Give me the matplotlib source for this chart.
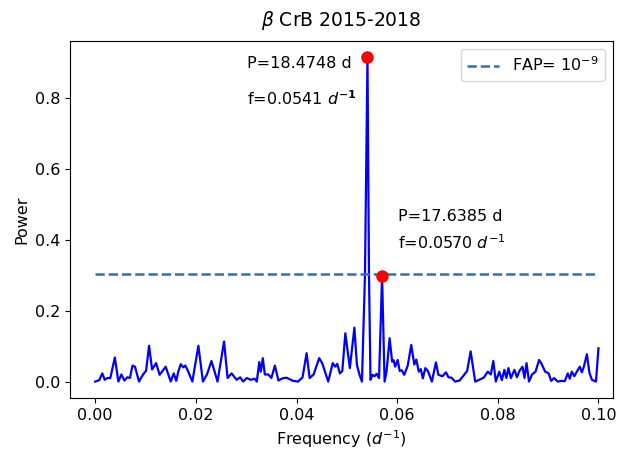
import matplotlib
matplotlib.use("Agg")
import matplotlib.pyplot as plt
import numpy as np

# Lomb-Scargle periodogram (frequency in 1/d, normalised power)
freq = [0.0000, 0.0008, 0.0014, 0.0019, 0.0024, 0.0030, 0.0039, 0.0046, 0.0052, 0.0058,
        0.0064, 0.0069, 0.0074, 0.0079, 0.0087, 0.0095, 0.0101, 0.0107, 0.0113, 0.0121,
        0.0128, 0.0140, 0.0150, 0.0156, 0.0161, 0.0165, 0.0170, 0.0175, 0.0179, 0.0183,
        0.0193, 0.0205, 0.0214, 0.0222, 0.0231, 0.0243, 0.0256, 0.0263, 0.0271, 0.0281,
        0.0288, 0.0294, 0.0301, 0.0309, 0.0317, 0.0321, 0.0326, 0.0329, 0.0333, 0.0337,
        0.0344, 0.0350, 0.0357, 0.0364, 0.0372, 0.0380, 0.0387, 0.0393, 0.0403, 0.0412,
        0.0420, 0.0426, 0.0434, 0.0445, 0.0451, 0.0463, 0.0472, 0.0477, 0.0481, 0.0486,
        0.0491, 0.0497, 0.0506, 0.0515, 0.0520, 0.0525, 0.0530, 0.0536, 0.0541, 0.0544,
        0.0547, 0.0551, 0.0555, 0.0559, 0.0564, 0.0570, 0.0575, 0.0579, 0.0585, 0.0590,
        0.0593, 0.0596, 0.0601, 0.0605, 0.0609, 0.0614, 0.0621, 0.0628, 0.0634, 0.0638,
        0.0643, 0.0647, 0.0651, 0.0656, 0.0661, 0.0669, 0.0677, 0.0682, 0.0690, 0.0697,
        0.0702, 0.0708, 0.0715, 0.0724, 0.0732, 0.0739, 0.0746, 0.0755, 0.0763, 0.0772,
        0.0780, 0.0786, 0.0791, 0.0796, 0.0803, 0.0808, 0.0813, 0.0817, 0.0821, 0.0826,
        0.0833, 0.0838, 0.0843, 0.0849, 0.0853, 0.0857, 0.0862, 0.0868, 0.0875, 0.0882,
        0.0887, 0.0894, 0.0901, 0.0906, 0.0912, 0.0919, 0.0926, 0.0933, 0.0939, 0.0943,
        0.0947, 0.0952, 0.0957, 0.0963, 0.0967, 0.0971, 0.0977, 0.0982, 0.0987, 0.0995,
        0.1000]
power = [0.000, 0.004, 0.023, 0.005, 0.010, 0.010, 0.068, 0.000, 0.020, 0.003,
         0.012, 0.010, 0.045, 0.042, 0.000, 0.020, 0.030, 0.101, 0.034, 0.052,
         0.019, 0.042, 0.000, 0.023, 0.002, 0.028, 0.049, 0.040, 0.045, 0.034,
         0.000, 0.101, 0.000, 0.020, 0.058, 0.000, 0.113, 0.010, 0.023, 0.005,
         0.012, 0.000, 0.010, 0.005, 0.008, 0.000, 0.055, 0.028, 0.066, 0.020,
         0.020, 0.010, 0.045, 0.003, 0.009, 0.011, 0.006, 0.002, 0.000, 0.012,
         0.080, 0.010, 0.020, 0.066, 0.052, 0.000, 0.052, 0.042, 0.050, 0.023,
         0.030, 0.136, 0.038, 0.152, 0.047, 0.020, 0.000, 0.300, 0.914, 0.300,
         0.005, 0.019, 0.015, 0.022, 0.010, 0.297, 0.000, 0.030, 0.122, 0.056,
         0.060, 0.042, 0.061, 0.030, 0.032, 0.019, 0.045, 0.103, 0.048, 0.062,
         0.028, 0.035, 0.009, 0.038, 0.030, 0.000, 0.054, 0.019, 0.015, 0.026,
         0.012, 0.011, 0.000, 0.003, 0.017, 0.030, 0.085, 0.000, 0.005, 0.011,
         0.028, 0.020, 0.058, 0.000, 0.028, 0.004, 0.033, 0.010, 0.038, 0.010,
         0.033, 0.012, 0.030, 0.042, 0.010, 0.052, 0.000, 0.020, 0.028, 0.061,
         0.050, 0.028, 0.023, 0.002, 0.010, 0.000, 0.002, 0.001, 0.023, 0.008,
         0.028, 0.015, 0.028, 0.042, 0.026, 0.042, 0.077, 0.025, 0.005, 0.000,
         0.094]

# detected periods
peak_freq = [0.0541, 0.0570]
peak_power = [0.914, 0.297]
peak_period = [18.4748, 17.6385]
fap_level = 0.304

plt.rcParams["font.size"] = 11.5

fig = plt.figure(figsize=(6.2, 4.51), dpi=100)
ax = fig.add_axes([0.113, 0.118, 0.875, 0.791])

ax.plot(freq, power, color="blue", lw=1.6)
ax.plot([0, 0.1], [fap_level, fap_level], "--", color="C0", lw=1.8,
        label=r"FAP= $10^{-9}$")
ax.plot(peak_freq, peak_power, "o", color="red", ms=8, zorder=5)

ax.text(0.0302, 0.896, "P=%.4f d" % peak_period[0], va="center")
ax.text(0.0302, 0.797, r"f=%.4f $d^{\mathbf{-1}}$" % peak_freq[0], va="center")
ax.text(0.0601, 0.465, "P=%.4f d" % peak_period[1], va="center")
ax.text(0.0601, 0.392, r"f=%.4f $d^{-1}$" % peak_freq[1], va="center")

ax.set_xlim(-0.005, 0.1028)
ax.set_ylim(-0.0457, 0.9597)
ax.set_xticks([0.0, 0.02, 0.04, 0.06, 0.08, 0.10])
ax.set_xlabel(r"Frequency ($d^{-1}$)")
ax.set_ylabel("Power")
ax.set_title(r"$\beta$ CrB 2015-2018", fontsize=13.5, pad=11)
ax.legend(loc="upper right")

fig.savefig("out.png", dpi=100)
